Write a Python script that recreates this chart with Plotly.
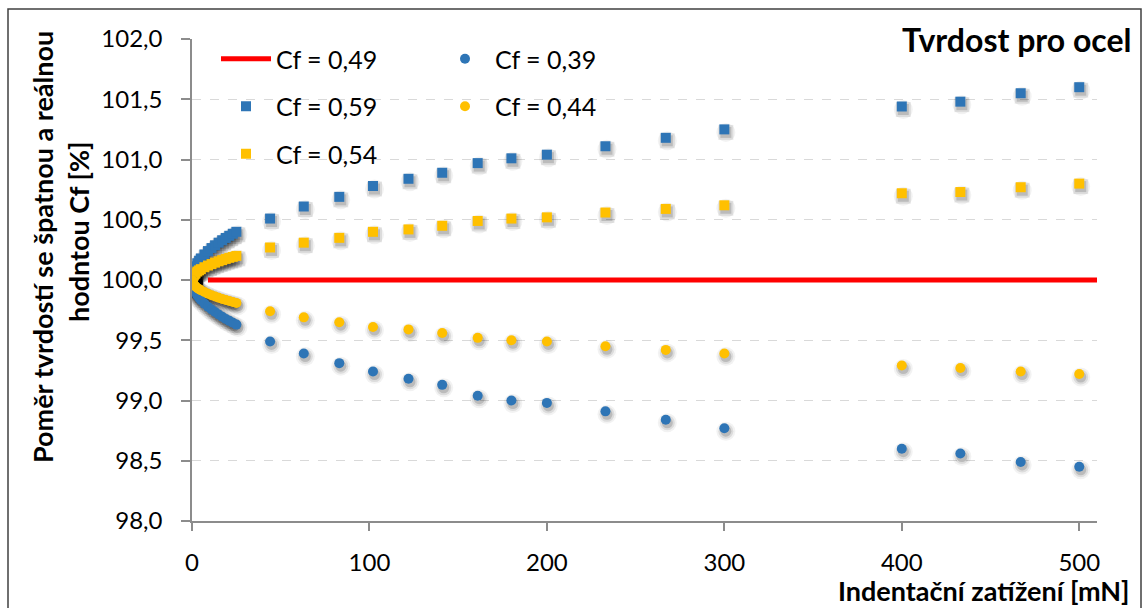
import plotly.graph_objects as go

# ---------------- data ----------------
x_small = [0.002, 0.005, 0.01, 0.02, 0.03, 0.05, 0.07, 0.1, 0.15, 0.25, 0.35, 0.5, 0.7, 1, 1.5,
           2, 3, 4, 5, 7, 9, 11, 13, 15, 17, 19, 21, 23, 25]
x_large = [44, 63, 83, 102, 122, 141, 161, 180, 200, 233, 267, 300, 400, 433, 467, 500]
load = x_small + x_large

cf059 = [100.004, 100.006, 100.008, 100.011, 100.014, 100.018, 100.021, 100.025, 100.031,
         100.04, 100.047, 100.057, 100.067, 100.08, 100.098,
         100.113, 100.139, 100.16, 100.179, 100.212,
         100.24, 100.265, 100.288, 100.31, 100.33, 100.349, 100.367, 100.384, 100.40,
         100.51, 100.61, 100.69, 100.78, 100.84, 100.89, 100.97, 101.01, 101.04,
         101.11, 101.18, 101.25, 101.44, 101.48, 101.55, 101.60]
cf054 = [100.002, 100.003, 100.004, 100.006, 100.007, 100.009, 100.011, 100.012, 100.015,
         100.02, 100.024, 100.028, 100.033, 100.04, 100.049,
         100.056, 100.07, 100.08, 100.09, 100.106,
         100.12, 100.132, 100.144, 100.155, 100.165, 100.175, 100.184, 100.192, 100.20,
         100.27, 100.31, 100.35, 100.40, 100.42, 100.45, 100.49, 100.51, 100.52,
         100.56, 100.59, 100.62, 100.72, 100.73, 100.77, 100.80]
cf044 = [99.998, 99.997, 99.996, 99.995, 99.993, 99.991, 99.99, 99.988, 99.985,
         99.981, 99.978, 99.973, 99.968, 99.962, 99.953,
         99.946, 99.934, 99.924, 99.915, 99.90,
         99.886, 99.874, 99.863, 99.853, 99.843, 99.834, 99.826, 99.818, 99.81,
         99.74, 99.69, 99.65, 99.61, 99.59, 99.56, 99.52, 99.50, 99.49,
         99.45, 99.42, 99.39, 99.29, 99.27, 99.24, 99.22]
cf039 = [99.996, 99.994, 99.993, 99.99, 99.987, 99.983, 99.98, 99.977, 99.971,
         99.963, 99.956, 99.947, 99.938, 99.926, 99.909,
         99.895, 99.871, 99.852, 99.834, 99.804,
         99.778, 99.755, 99.734, 99.713, 99.695, 99.677, 99.661, 99.645, 99.63,
         99.49, 99.39, 99.31, 99.24, 99.18, 99.13, 99.04, 99.00, 98.98,
         98.91, 98.84, 98.77, 98.60, 98.56, 98.49, 98.45]
ref_x = [9, 510]
ref_y = [100.0, 100.0]

x_range = [0, 510]
y_range = [98.0, 102.0]
x_tickvals = [0, 100, 200, 300, 400, 500]
y_tickvals = [98.0, 98.5, 99.0, 99.5, 100.0, 100.5, 101.0, 101.5, 102.0]

# ---------------- style ----------------
BLUE = "#2E75B6"
YELLOW = "#FFC000"
RED = "#FF0000"
FONT = "Lato"

W, H = 1148, 608
ML, MR, MT, MB = 192, 51, 39, 87
pw = W - ML - MR
ph = H - MT - MB

# shadow offset in data units (derived from a pixel offset)
sdx = 1.5 * (x_range[1] - x_range[0]) / pw
sdy = 3.0 * (y_range[1] - y_range[0]) / ph

fig = go.Figure()

series = [
    ("Cf = 0,59", cf059, BLUE, "square", "legend", "g2"),
    ("Cf = 0,54", cf054, YELLOW, "square", "legend", "g3"),
    ("Cf = 0,39", cf039, BLUE, "circle", "legend2", "h1"),
    ("Cf = 0,44", cf044, YELLOW, "circle", "legend2", "h2"),
]

# soft shadows (stacked layers to mimic blur)
shadow_layers = [(19, 0.05), (15, 0.09), (11, 0.15)]
for name, vals, col, sym, lg, grp in series:
    for size, alpha in shadow_layers:
        fig.add_trace(go.Scatter(
            x=[v + sdx for v in load], y=[v - sdy for v in vals], mode="markers",
            marker=dict(symbol="circle" if size > 15 else sym, size=size,
                        color=f"rgba(0,0,0,{alpha})", line=dict(width=0)),
            showlegend=False, hoverinfo="skip"))

# reference line
fig.add_trace(go.Scatter(
    x=ref_x, y=ref_y, mode="lines", name="Cf = 0,49",
    line=dict(color=RED, width=5), legend="legend", legendgroup="g1"))

for name, vals, col, sym, lg, grp in series:
    fig.add_trace(go.Scatter(
        x=load, y=vals, mode="markers", name=name,
        marker=dict(symbol=sym, size=10, color=col, line=dict(width=0)),
        legend=lg, legendgroup=grp))


def px_to_paper_x(px):
    return (px - ML) / pw


def px_to_paper_y(py):
    return (H - MB - py) / ph


legend_common = dict(
    bgcolor="rgba(0,0,0,0)", borderwidth=0, orientation="v",
    font=dict(family=FONT, size=25, color="black"),
    itemwidth=50, tracegroupgap=12, xanchor="left", yanchor="top",
    traceorder="grouped",
)

fig.update_layout(
    width=W, height=H,
    margin=dict(l=ML, r=MR, t=MT, b=MB, pad=0),
    paper_bgcolor="white", plot_bgcolor="white",
    separators=", ",
    font=dict(family=FONT, size=24, color="black"),
    legend=dict(x=px_to_paper_x(216), y=px_to_paper_y(36), **legend_common),
    legend2=dict(x=px_to_paper_x(435), y=px_to_paper_y(36), **legend_common),
    xaxis=dict(
        range=x_range, tickmode="array", tickvals=x_tickvals,
        showgrid=False, zeroline=False, showline=True, linecolor="#8C8C8C", linewidth=1.5,
        ticks="outside", ticklen=8, tickcolor="#8C8C8C", tickwidth=1.5,
        ticklabelstandoff=11,
        tickfont=dict(family=FONT, size=24, color="black"),
    ),
    yaxis=dict(
        range=y_range, tickmode="array", tickvals=y_tickvals,
        tickformat=".1f",
        showgrid=True, gridcolor="#D9D9D9", griddash="dash", gridwidth=1,
        zeroline=False, showline=True, linecolor="#8C8C8C", linewidth=1.5,
        ticks="outside", ticklen=9, tickcolor="#8C8C8C", tickwidth=1.5,
        ticklabelstandoff=14,
        tickfont=dict(family=FONT, size=24, color="black"),
    ),
    showlegend=True,
)

# outer frame
fig.add_shape(type="rect", xref="paper", yref="paper",
              x0=px_to_paper_x(8), x1=px_to_paper_x(1141),
              y0=px_to_paper_y(640), y1=px_to_paper_y(9),
              line=dict(color="#404040", width=1.5), fillcolor="rgba(0,0,0,0)", layer="below")

# title
fig.add_annotation(text="<b>Tvrdost pro ocel</b>", xref="paper", yref="paper",
                   x=px_to_paper_x(1134), y=px_to_paper_y(39), xanchor="right", yanchor="middle",
                   showarrow=False, font=dict(family=FONT, size=32, color="black"))

# x axis title
fig.add_annotation(text="<b>Indentační zatížení [mN]</b>", xref="paper", yref="paper",
                   x=px_to_paper_x(1132), y=px_to_paper_y(590), xanchor="right", yanchor="middle",
                   showarrow=False, font=dict(family=FONT, size=27, color="black"))

# y axis title (two lines)
fig.add_annotation(text="<b>Poměr tvrdostí se špatnou a reálnou</b>", xref="paper", yref="paper",
                   x=px_to_paper_x(42), y=px_to_paper_y(247), xanchor="center", yanchor="middle",
                   textangle=-90, showarrow=False, font=dict(family=FONT, size=27, color="black"))
fig.add_annotation(text="<b>hodntou Cf [%]</b>", xref="paper", yref="paper",
                   x=px_to_paper_x(78), y=px_to_paper_y(232), xanchor="center", yanchor="middle",
                   textangle=-90, showarrow=False, font=dict(family=FONT, size=27, color="black"))

fig.write_html("out.html", config={"displayModeBar": False},
               post_script="document.body.style.margin='0px';")
